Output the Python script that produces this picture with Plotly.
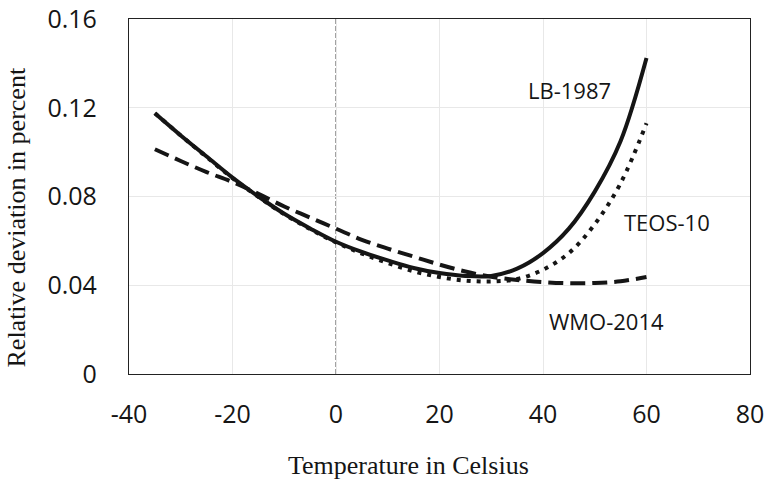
import plotly.graph_objects as go

temperature = [-35, -30, -25, -20, -15, -10, -5, 0, 5, 10, 15, 20, 25, 30, 35, 40, 45, 50, 55, 60]
lb_1987 = [0.1175, 0.1075, 0.0980, 0.0885, 0.0800, 0.0722, 0.0656, 0.0596, 0.0550, 0.0512,
           0.0478, 0.0455, 0.0442, 0.0442, 0.0475, 0.0545, 0.0655, 0.0822, 0.1050, 0.1424]
teos_10 = [0.1175, 0.1075, 0.0978, 0.0883, 0.0798, 0.0720, 0.0653, 0.0593, 0.0543, 0.0500,
           0.0463, 0.0437, 0.0421, 0.0417, 0.0428, 0.0470, 0.0545, 0.0675, 0.0860, 0.1130]
wmo_2014 = [0.1013, 0.0960, 0.0910, 0.0865, 0.0812, 0.0755, 0.0705, 0.0655, 0.0605, 0.0565,
            0.0529, 0.0493, 0.0462, 0.0438, 0.0424, 0.0414, 0.0409, 0.0410, 0.0418, 0.0437]

x_ticks = [-40, -20, 0, 20, 40, 60, 80]
x_tick_text = ["-40", "-20", "0", "20", "40", "60", "80"]
y_ticks = [0, 0.04, 0.08, 0.12, 0.16]
y_tick_text = ["0", "0.04", "0.08", "0.12", "0.16"]

series_labels = ["LB-1987", "TEOS-10", "WMO-2014"]
label_x = [45.1, 64.0, 52.3]
label_y = [0.128, 0.0685, 0.0239]

INK = "#151515"
SANS = "Open Sans"
SERIF = "Liberation Serif"

fig = go.Figure()
fig.add_trace(go.Scatter(x=temperature, y=wmo_2014, mode="lines", name="WMO-2014",
                         line=dict(color=INK, width=4, dash="15px,7px", shape="spline")))
fig.add_trace(go.Scatter(x=temperature, y=teos_10, mode="lines", name="TEOS-10",
                         line=dict(color=INK, width=4, dash="4px,6px", shape="spline")))
fig.add_trace(go.Scatter(x=temperature, y=lb_1987, mode="lines", name="LB-1987",
                         line=dict(color=INK, width=4, shape="spline")))

fig.add_shape(type="line", xref="x", yref="paper", x0=0, x1=0, y0=0, y1=1,
              line=dict(color="#444444", width=1, dash="5px,2px"), layer="between")

for t, xx, yy in zip(series_labels, label_x, label_y):
    fig.add_annotation(x=xx, y=yy, xref="x", yref="y", text=t, showarrow=False,
                       xanchor="center", yanchor="middle",
                       font=dict(family=SANS, size=22, color=INK))

fig.add_annotation(xref="paper", yref="paper", x=-0.1813, y=0.442, text="Relative deviation in percent",
                   textangle=-90, showarrow=False, xanchor="center", yanchor="middle",
                   font=dict(family=SERIF, size=26, color=INK))
fig.add_annotation(xref="paper", yref="paper", x=0.4496, y=-0.259, text="Temperature in Celsius",
                   showarrow=False, xanchor="center", yanchor="middle",
                   font=dict(family=SERIF, size=26, color=INK))

fig.update_xaxes(range=[-40, 80], tickvals=x_ticks, ticktext=x_tick_text, showgrid=True,
                 gridcolor="#e8e8e8", gridwidth=1, automargin=False,
                 zeroline=False, showline=True, linecolor="#222222", linewidth=1.3, mirror=True,
                 ticks="outside", ticklen=18, tickcolor="rgba(0,0,0,0)",
                 tickfont=dict(family=SANS, size=25, color=INK))
fig.update_yaxes(range=[0, 0.16], tickvals=y_ticks, ticktext=y_tick_text, showgrid=True,
                 gridcolor="#e8e8e8", gridwidth=1, zeroline=False, showline=True, automargin=False,
                 linecolor="#222222", linewidth=1.3, mirror=True,
                 ticks="outside", ticklen=26, tickcolor="rgba(0,0,0,0)",
                 tickfont=dict(family=SANS, size=25, color=INK))

fig.update_layout(width=768, height=481, margin=dict(l=129, r=18, t=19, b=107, autoexpand=False),
                  paper_bgcolor="white", plot_bgcolor="white", showlegend=False)

# remove the default 8px page margin so the figure sits at the window origin
fig.write_html("out.html", config={"displayModeBar": False},
               post_script="document.body.style.margin='0';document.body.style.overflow='hidden';")
